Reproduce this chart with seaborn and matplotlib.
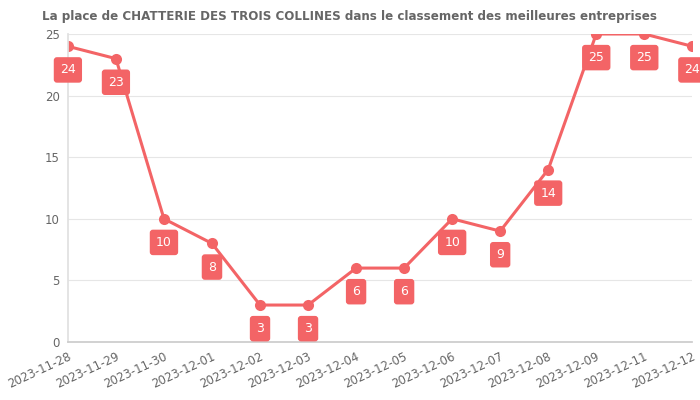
import matplotlib
matplotlib.use("Agg")
import matplotlib.pyplot as plt
import seaborn as sns
import pandas as pd

dates = ["2023-11-28", "2023-11-29", "2023-11-30", "2023-12-01", "2023-12-02",
         "2023-12-03", "2023-12-04", "2023-12-05", "2023-12-06", "2023-12-07",
         "2023-12-08", "2023-12-09", "2023-12-11", "2023-12-12"]
places = [24, 23, 10, 8, 3, 3, 6, 6, 10, 9, 14, 25, 25, 24]

title = "La place de CHATTERIE DES TROIS COLLINES dans le classement des meilleures entreprises"
red = "#F36466"
grey = "#666666"

sns.set_theme(style="whitegrid")
plt.rcParams['font.family'] = ['DejaVu Sans']

df = pd.DataFrame({"date": dates, "place": places})
df["pos"] = range(len(df))

fig = plt.figure(figsize=(7, 4), dpi=100)
ax = fig.add_axes([0.097, 0.145, 0.892, 0.77])

sns.lineplot(data=df, x="pos", y="place", ax=ax, color=red, linewidth=2.2,
             marker="o", markersize=8, markeredgewidth=0)

for x, y in zip(df["pos"], df["place"]):
    ax.annotate(str(y), (x, y), xytext=(0, -17), textcoords="offset points",
                ha="center", va="center", color="white", fontsize=9,
                bbox=dict(boxstyle="round,pad=0.5,rounding_size=0.25", fc=red, ec="none"))

ax.set_xlim(0, len(dates) - 1)
ax.set_ylim(0, 25)
ax.set_yticks([0, 5, 10, 15, 20, 25])
ax.set_xticks(df["pos"])
ax.set_xticklabels(dates, rotation=25, ha="right", rotation_mode="anchor")
ax.set_xlabel("")
ax.set_ylabel("")
ax.tick_params(colors=grey, labelsize=8.5, length=0, pad=6)
ax.grid(axis="x", visible=False)
ax.grid(axis="y", color="#e6e6e6", linewidth=0.8)
for s in ["top", "right"]:
    ax.spines[s].set_visible(False)
ax.spines["left"].set_color("#e0e0e0")
ax.spines["bottom"].set_color("#cccccc")
ax.set_facecolor("white")

fig.suptitle(title, x=0.5, y=0.975, fontsize=8.6, fontweight="bold", color=grey)

fig.savefig("out.png", dpi=100)
